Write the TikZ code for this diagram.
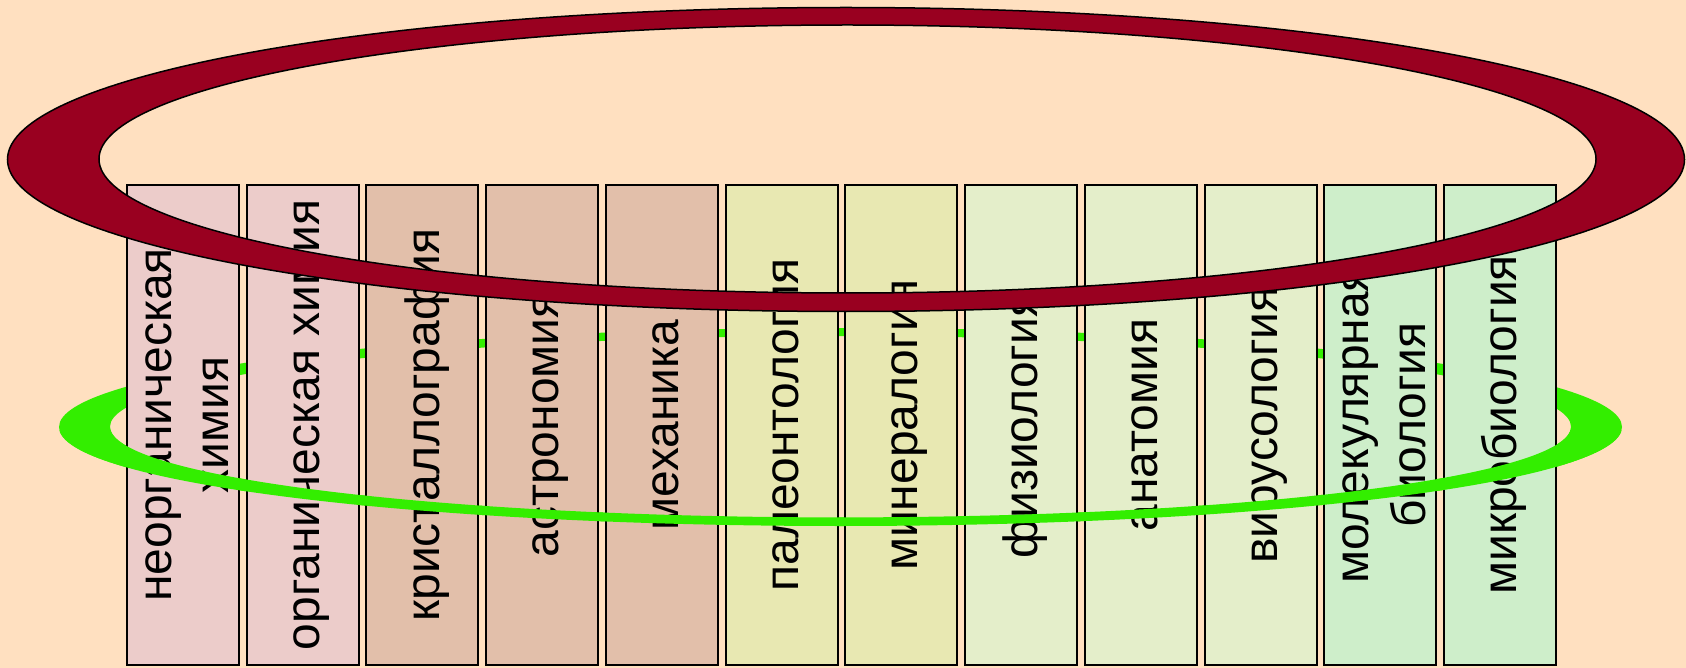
\documentclass[tikz,border=0pt]{standalone}
\usepackage{fontspec}
\setmainfont{Liberation Sans}
\definecolor{peach}{HTML}{FFE0C0}
\definecolor{ringred}{HTML}{990020}
\definecolor{ringgreen}{HTML}{33EE00}
\definecolor{pinkbox}{HTML}{ECCCCA}
\definecolor{tanbox}{HTML}{E2BFAA}
\definecolor{yellowbox}{HTML}{E8E8B2}
\definecolor{palebox}{HTML}{E4EECA}
\definecolor{greenbox}{HTML}{CEEECA}
\newcommand{\linestrut}{\rule[-5.1pt]{0pt}{26.8pt}}

\begin{document}
\begin{tikzpicture}[x=0.5pt, y=-0.5pt,
  subj/.style={draw=black, line width=1pt, rotate=90, minimum width=240pt,
    minimum height=56pt, inner sep=0pt, align=center,
    font=\fontsize{24}{28.5}\selectfont, execute at begin node=\linestrut}]
  \useasboundingbox (0,0) rectangle (1686,668);
  \fill[peach] (0,0) rectangle (1686,668);
  % green ring, back part
  \fill[ringgreen, even odd rule] (840.5,427) ellipse [x radius=781.5, y radius=99]
    (840.5,426.7) ellipse [x radius=730.5, y radius=90.7];
  \node[subj, fill=pinkbox] (nch) at (182.9,425) {\linestrut неорганическая\\химия};
  \node[subj, fill=pinkbox] (och) at (302.6,425) {органическая химия};
  \node[subj, fill=tanbox] (kr) at (422.4,425) {кристаллография};
  \node[subj, fill=tanbox] (as) at (542.1,425) {астрономия};
  \node[subj, fill=tanbox] (me) at (661.8,425) {механика};
  \node[subj, fill=yellowbox] (pa) at (781.6,425) {палеонтология};
  \node[subj, fill=yellowbox] (mi) at (901.3,425) {минералогия};
  \node[subj, fill=palebox] (fi) at (1021.0,425) {физиология};
  \node[subj, fill=palebox] (an) at (1140.7,425) {анатомия};
  \node[subj, fill=palebox] (vi) at (1260.5,425) {вирусология};
  \node[subj, fill=greenbox] (mb) at (1380.2,425) {\linestrut молекулярная\\биология};
  \node[subj, fill=greenbox] (mk) at (1499.9,425) {микробиология};
  % green ring, front part
  \begin{scope}
    \clip (0,430) rectangle (1686,668);
    \fill[ringgreen, even odd rule] (840.5,427) ellipse [x radius=781.5, y radius=99]
      (840.5,426.7) ellipse [x radius=730.5, y radius=90.7];
  \end{scope}
  % red ring
  \path[fill=ringred, draw=black, line width=0.75pt, even odd rule]
    (846,159.5) ellipse [x radius=838.5, y radius=152]
    (847.5,159) ellipse [x radius=748.5, y radius=134];
\end{tikzpicture}
\end{document}
